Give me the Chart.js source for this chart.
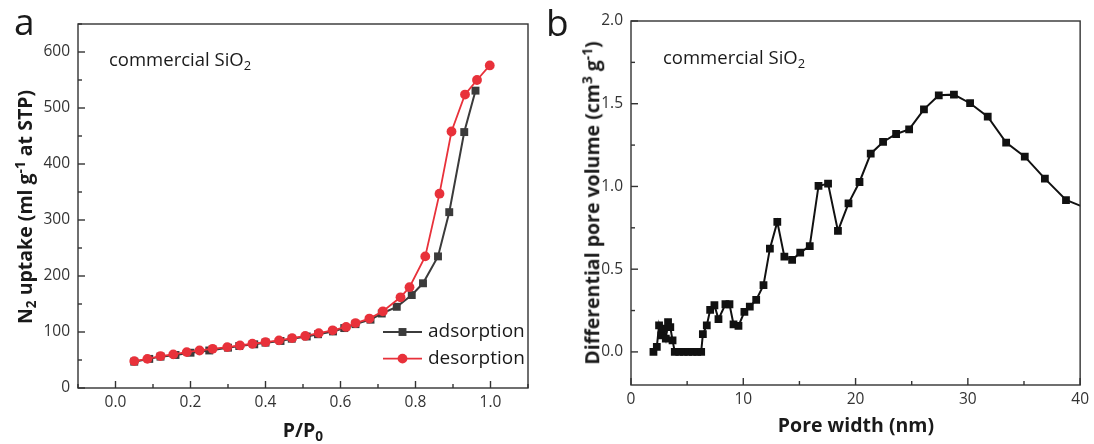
<!DOCTYPE html>
<html>
<head>
<meta charset="utf-8">
<script src="https://cdn.jsdelivr.net/npm/chart.js@4.4.1/dist/chart.umd.min.js"></script>
<style>
  body { margin: 0; background: #fff; font-family: "Open Sans", sans-serif; color: #1a1a1a; }
  #wrap { position: relative; width: 1094px; height: 444px; overflow: hidden; }
  canvas { position: absolute; top: 0; }
  #cA { left: 0; }
  #cB { left: 540px; }
  .txt { position: absolute; white-space: nowrap; line-height: 1; }
  .panel { font-size: 37px; }
  .note { font-size: 18.5px; }
  .ttl { font-size: 19.5px; font-weight: bold; transform: translate(-50%, -50%); }
  .ttl.rot { transform: translate(-50%, -50%) rotate(-90deg); }
  sub { font-size: 0.7em; vertical-align: -0.3em; line-height: 0; }
  sup { font-size: 0.7em; vertical-align: 0.5em; line-height: 0; }
</style>
</head>
<body>
<div id="wrap">
  <canvas id="cA" width="540" height="444"></canvas>
  <canvas id="cB" width="554" height="444"></canvas>

  <div class="txt panel" style="left:14px; top:2px;">a</div>
  <div class="txt panel" style="left:546px; top:3px;">b</div>
  <div class="txt note" style="left:109px; top:50px;">commercial SiO<sub>2</sub></div>
  <div class="txt note" style="left:663px; top:48px;">commercial SiO<sub>2</sub></div>

  <div class="txt ttl rot" style="left:25px; top:207px;">N<sub>2</sub> uptake (ml g<sup>-1</sup> at STP)</div>
  <div class="txt ttl" style="left:303px; top:430px;">P/P<sub>0</sub></div>
  <div class="txt ttl rot" style="left:592px; top:203px;">Differential pore volume (cm<sup>3</sup> g<sup>-1</sup>)</div>
  <div class="txt ttl" style="left:856px; top:425px;">Pore width (nm)</div>
</div>

<script>
// N2 isotherm
const adsP = [0.05, 0.09, 0.12, 0.16, 0.20, 0.25, 0.30, 0.33, 0.37, 0.40, 0.44, 0.47, 0.51, 0.54, 0.58, 0.61, 0.64, 0.68, 0.71, 0.75, 0.79, 0.82, 0.86, 0.89, 0.93, 0.96];
const adsV = [47, 52, 56, 59, 63, 67, 72, 75, 78, 81, 84, 88, 92, 96, 101, 107, 114, 122, 133, 145, 166, 187, 235, 314, 457, 531];
const desP = [0.05, 0.085, 0.12, 0.154, 0.19, 0.224, 0.259, 0.298, 0.332, 0.365, 0.40, 0.436, 0.471, 0.506, 0.542, 0.579, 0.615, 0.64, 0.677, 0.713, 0.76, 0.784, 0.826, 0.864, 0.896, 0.932, 0.964, 0.998];
const desV = [48, 52, 57, 60, 64, 67, 70, 73, 76, 79, 82, 85, 89, 93, 98, 103, 109, 116, 124, 137, 162, 180, 235, 347, 458, 524, 550, 576];

// pore size distribution
const poreW = [2.0, 2.3, 2.5, 2.7, 2.9, 3.1, 3.3, 3.5, 3.7, 3.9, 4.3, 4.7, 5.1, 5.5, 5.9, 6.25, 6.4, 6.75, 7.05, 7.43, 7.79, 8.41, 8.77, 9.13, 9.57, 10.1, 10.58, 11.15, 11.8, 12.37, 13.03, 13.66, 14.35, 15.07, 15.92, 16.7, 17.55, 18.43, 19.37, 20.35, 21.35, 22.45, 23.61, 24.77, 26.09, 27.41, 28.76, 30.2, 31.77, 33.41, 35.07, 36.86, 38.74, 40.9];
const poreDV = [0.0, 0.03, 0.16, 0.1, 0.14, 0.08, 0.18, 0.15, 0.07, 0.0, 0.0, 0.0, 0.0, 0.0, 0.0, 0.0, 0.107, 0.16, 0.254, 0.282, 0.198, 0.288, 0.288, 0.167, 0.157, 0.242, 0.274, 0.314, 0.403, 0.624, 0.786, 0.576, 0.556, 0.6, 0.64, 1.003, 1.017, 0.731, 0.898, 1.027, 1.198, 1.269, 1.317, 1.345, 1.466, 1.551, 1.555, 1.503, 1.422, 1.265, 1.18, 1.047, 0.918, 0.86];

// tick values
const ticksA_x = [0, 0.2, 0.4, 0.6, 0.8, 1.0];
const minorA_x = [-0.1, 0.1, 0.3, 0.5, 0.7, 0.9, 1.1];
const ticksA_y = [0, 100, 200, 300, 400, 500, 600];
const minorA_y = [50, 150, 250, 350, 450, 550, 650];
const ticksB_x = [0, 10, 20, 30, 40];
const minorB_x = [5, 15, 25, 35];
const ticksB_y = [0, 0.5, 1.0, 1.5, 2.0];
const minorB_y = [0.25, 0.75, 1.25, 1.75];

const axisColor = '#333';
const tickFont = { family: 'Open Sans', size: 15.5 };

const pts = (xs, ys) => xs.map((x, i) => ({ x: x, y: ys[i] }));

// box frame plus inward major/minor ticks
const frameTicks = {
  id: 'frameTicks',
  afterDraw(chart, args, opts) {
    const { ctx, chartArea: a, scales } = chart;
    ctx.save();
    ctx.strokeStyle = axisColor;
    ctx.lineWidth = 1.4;
    ctx.strokeRect(a.left, a.top, a.right - a.left, a.bottom - a.top);
    const mark = (scale, values, len) => {
      values.forEach(v => {
        const p = scale.getPixelForValue(v);
        ctx.beginPath();
        if (scale.isHorizontal()) {
          ctx.moveTo(p, a.bottom);
          ctx.lineTo(p, a.bottom - len);
        } else {
          ctx.moveTo(a.left, p);
          ctx.lineTo(a.left + len, p);
        }
        ctx.stroke();
      });
    };
    mark(scales.x, opts.xMajor, 7);
    mark(scales.x, opts.xMinor, 4);
    mark(scales.y, opts.yMajor, 7);
    mark(scales.y, opts.yMinor, 4);
    ctx.restore();
  }
};

// legend inside the plot, lower right
const boxLegend = {
  id: 'boxLegend',
  afterDraw(chart, args, opts) {
    if (!opts.items) return;
    const ctx = chart.ctx;
    ctx.save();
    opts.items.forEach((it, k) => {
      const ds = chart.data.datasets[it.index];
      const y = opts.y + k * opts.gap;
      ctx.strokeStyle = ds.borderColor;
      ctx.lineWidth = ds.borderWidth;
      ctx.beginPath();
      ctx.moveTo(opts.x, y);
      ctx.lineTo(opts.x + opts.len, y);
      ctx.stroke();
      ctx.fillStyle = ds.pointBackgroundColor;
      Chart.helpers.drawPoint(ctx, { pointStyle: ds.pointStyle, radius: ds.pointRadius, borderWidth: 0, rotation: 0 }, opts.x + opts.len / 2, y);
      ctx.fillStyle = '#1a1a1a';
      ctx.font = '19px "Open Sans"';
      ctx.textBaseline = 'middle';
      ctx.fillText(ds.label, opts.x + opts.len + 6, y);
    });
    ctx.restore();
  }
};

function fixWidth(w) { return scale => { scale.width = w; }; }
function fixHeight(h) { return scale => { scale.height = h; }; }
function setTicks(values) { return scale => { scale.ticks = values.map(v => ({ value: v })); }; }

function axis(min, max, major, fmt, size, pad, horizontal) {
  return {
    type: 'linear',
    position: horizontal ? 'bottom' : 'left',
    min: min,
    max: max,
    grid: { display: false, drawTicks: false },
    border: { display: false },
    ticks: { color: axisColor, font: tickFont, padding: pad, maxRotation: 0, autoSkip: false, callback: fmt },
    afterBuildTicks: setTicks(major),
    afterFit: horizontal ? fixHeight(size) : fixWidth(size)
  };
}

new Chart(document.getElementById('cA'), {
  type: 'line',
  data: {
    datasets: [
      {
        label: 'adsorption',
        data: pts(adsP, adsV),
        borderColor: '#3b3b3b',
        borderWidth: 2,
        pointStyle: 'rect',
        pointRadius: 5.6,
        pointBackgroundColor: '#3b3b3b',
        pointBorderWidth: 0,
        order: 1
      },
      {
        label: 'desorption',
        data: pts(desP, desV),
        borderColor: '#e8313a',
        borderWidth: 1.8,
        pointStyle: 'circle',
        pointRadius: 4.9,
        pointBackgroundColor: '#e8313a',
        pointBorderWidth: 0,
        order: 0
      }
    ]
  },
  options: {
    responsive: false,
    animation: false,
    layout: { padding: { left: 0, right: 12, top: 24, bottom: 0 } },
    elements: { line: { tension: 0 } },
    scales: {
      x: axis(-0.1, 1.1, ticksA_x, v => v.toFixed(1), 56, 5, true),
      y: axis(0, 650, ticksA_y, v => v.toFixed(0), 78, 8, false)
    },
    plugins: {
      legend: { display: false },
      tooltip: { enabled: false },
      frameTicks: { xMajor: ticksA_x, xMinor: minorA_x, yMajor: ticksA_y, yMinor: minorA_y },
      boxLegend: { x: 383, y: 332, gap: 26.6, len: 39, items: [{ index: 0 }, { index: 1 }] }
    }
  },
  plugins: [frameTicks, boxLegend]
});

new Chart(document.getElementById('cB'), {
  type: 'line',
  data: {
    datasets: [
      {
        label: 'pore volume',
        data: pts(poreW, poreDV),
        borderColor: '#111',
        borderWidth: 2,
        pointStyle: 'rect',
        pointRadius: 5.5,
        pointBackgroundColor: '#111',
        pointBorderWidth: 0,
        clip: 0
      }
    ]
  },
  options: {
    responsive: false,
    animation: false,
    layout: { padding: { left: 0, right: 13, top: 21, bottom: 0 } },
    elements: { line: { tension: 0 } },
    scales: {
      x: axis(0, 40, ticksB_x, v => v.toFixed(0), 59, 5, true),
      y: axis(-0.2, 2.0, ticksB_y, v => v.toFixed(1), 91, 8, false)
    },
    plugins: {
      legend: { display: false },
      tooltip: { enabled: false },
      frameTicks: { xMajor: ticksB_x, xMinor: minorB_x, yMajor: ticksB_y, yMinor: minorB_y }
    }
  },
  plugins: [frameTicks]
});
</script>
</body>
</html>
